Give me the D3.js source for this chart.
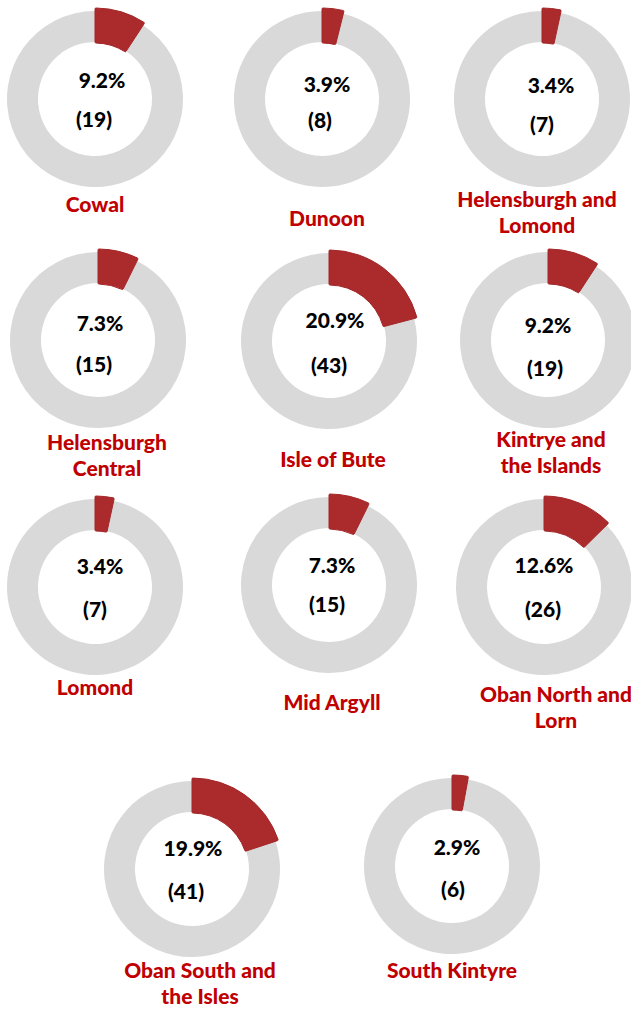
<!DOCTYPE html>
<html>
<head>
<meta charset="utf-8">
<script src="https://cdn.jsdelivr.net/npm/d3@7/dist/d3.min.js"></script>
<style>
  html, body { margin: 0; padding: 0; background: #ffffff; }
  svg { display: block; }
  text { font-family: Lato, "Open Sans", "DejaVu Sans", sans-serif; font-weight: 900; }
</style>
</head>
<body>
<svg id="chart" width="631" height="1012"></svg>
<script>
// Ward names (each entry is the wrapped label lines)
const wards = [
  ["Cowal"],
  ["Dunoon"],
  ["Helensburgh and", "Lomond"],
  ["Helensburgh", "Central"],
  ["Isle of Bute"],
  ["Kintrye and", "the Islands"],
  ["Lomond"],
  ["Mid Argyll"],
  ["Oban North and", "Lorn"],
  ["Oban South and", "the Isles"],
  ["South Kintyre"]
];

// Share of the area total (%) and the underlying count
const percentages = [9.2, 3.9, 3.4, 7.3, 20.9, 9.2, 3.4, 7.3, 12.6, 19.9, 2.9];
const counts = [19, 8, 7, 15, 43, 19, 7, 15, 26, 41, 6];

// Placement of each donut on the page and small nudges to its labels
const layout = [
  { cx: 95,  cy: 99,  nameDy: 113, nameDx: 0,  pctDx: 7, pctDy: -11, cntDx: -1, cntDy: 28 },
  { cx: 322, cy: 99,  nameDy: 127, nameDx: 5,  pctDx: 5, pctDy: -7,  cntDx: -2, cntDy: 29 },
  { cx: 542, cy: 99,  nameDy: 108, nameDx: -5, pctDx: 9, pctDy: -6,  cntDx: 0,  cntDy: 33 },
  { cx: 98,  cy: 340, nameDy: 110, nameDx: 9,  pctDx: 2, pctDy: -9,  cntDx: -4, cntDy: 32 },
  { cx: 329, cy: 341, nameDy: 126, nameDx: 4,  pctDx: 6, pctDy: -13, cntDx: 0,  cntDy: 32 },
  { cx: 548, cy: 340, nameDy: 107, nameDx: 3,  pctDx: 0, pctDy: -7,  cntDx: -3, cntDy: 36 },
  { cx: 95,  cy: 587, nameDy: 108, nameDx: 0,  pctDx: 5, pctDy: -13, cntDx: 0,  cntDy: 30 },
  { cx: 329, cy: 585, nameDy: 125, nameDx: 3,  pctDx: 3, pctDy: -12, cntDx: -2, cntDy: 27 },
  { cx: 544, cy: 587, nameDy: 115, nameDx: 12, pctDx: 0, pctDy: -14, cntDx: -1, cntDy: 30 },
  { cx: 192, cy: 869, nameDy: 109, nameDx: 8,  pctDx: 1, pctDy: -13, cntDx: -6, cntDy: 30 },
  { cx: 452, cy: 866, nameDy: 112, nameDx: 0,  pctDx: 5, pctDy: -11, cntDx: 1,  cntDy: 31 }
];

const outerR = 88;
const innerR = 57;
const lineGap = 26;

const svg = d3.select("#chart");

const pie = d3.pie().sort(null).value(d => d.v);
const restArc = d3.arc().innerRadius(innerR).outerRadius(outerR);
const shareArc = d3.arc().innerRadius(innerR - 1).outerRadius(outerR + 3).cornerRadius(1);

wards.forEach((lines, i) => {
  const pos = layout[i];
  const g = svg.append("g").attr("transform", `translate(${pos.cx},${pos.cy})`);
  const slices = pie([
    { key: "share", v: percentages[i] },
    { key: "rest", v: 100 - percentages[i] }
  ]);

  // grey remainder first, highlighted share on top
  g.append("path")
    .attr("d", restArc(slices[1]))
    .attr("fill", "#d9d9d9");
  g.append("path")
    .attr("d", shareArc(slices[0]))
    .attr("fill", "#ab2a2c")
    .attr("stroke", "#a32628")
    .attr("stroke-width", 1);

  g.append("text")
    .attr("x", pos.pctDx)
    .attr("y", pos.pctDy)
    .attr("text-anchor", "middle")
    .attr("font-size", 21)
    .attr("fill", "#000000")
    .text(d3.format(".1f")(percentages[i]) + "%");

  g.append("text")
    .attr("x", pos.cntDx)
    .attr("y", pos.cntDy)
    .attr("text-anchor", "middle")
    .attr("font-size", 21)
    .attr("fill", "#000000")
    .text(`(${counts[i]})`);

  const name = g.append("text")
    .attr("text-anchor", "middle")
    .attr("font-size", 21)
    .attr("fill", "#c00000");
  lines.forEach((ln, k) => {
    name.append("tspan")
      .attr("x", pos.nameDx)
      .attr("y", pos.nameDy + k * lineGap)
      .text(ln);
  });
});
</script>
</body>
</html>
